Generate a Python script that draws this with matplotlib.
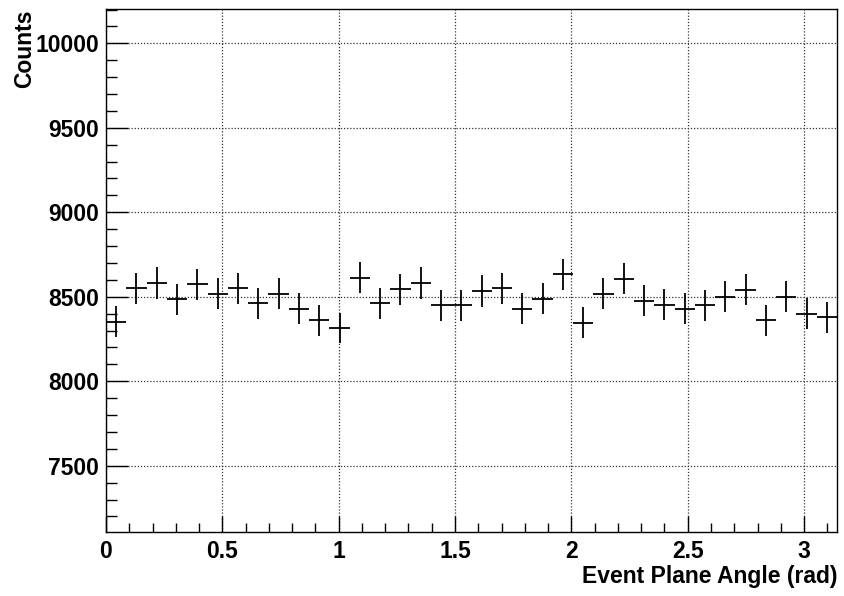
import numpy as np
import matplotlib
matplotlib.use("Agg")
import matplotlib.pyplot as plt
from matplotlib.ticker import MultipleLocator

# Histogram data (36 bins over [0, pi])
n_bins = 36
counts = [8352, 8551, 8581, 8484, 8573, 8518, 8551, 8461, 8518, 8429,
          8360, 8315, 8614, 8461, 8545, 8581, 8451, 8451, 8534, 8551,
          8429, 8488, 8632, 8346, 8518, 8608, 8476, 8453, 8429, 8451,
          8500, 8543, 8362, 8500, 8401, 8380]
x_label = "Event Plane Angle (rad)"
y_label = "Counts"
x_range = (0.0, np.pi)
y_range = (7108, 10203)

edges = np.linspace(x_range[0], x_range[1], n_bins + 1)
centers = 0.5 * (edges[:-1] + edges[1:])
half_w = 0.5 * (edges[1:] - edges[:-1])
vals = np.array(counts, dtype=float)
errs = np.sqrt(vals)

plt.rcParams['font.family'] = ['Liberation Sans', 'DejaVu Sans']
plt.rcParams['font.weight'] = 'bold'

fig = plt.figure(figsize=(8.44, 5.96), dpi=100)
ax = fig.add_axes([106/844, 1 - 532/596, (837-106)/844, (532-9)/596])

ax.errorbar(centers, vals, xerr=half_w, yerr=errs, fmt='none',
            ecolor='black', elinewidth=1.3, capsize=0, zorder=3)

ax.set_xlim(*x_range)
ax.set_ylim(*y_range)

ax.xaxis.set_major_locator(MultipleLocator(0.5))
ax.xaxis.set_minor_locator(MultipleLocator(0.1))
ax.yaxis.set_major_locator(MultipleLocator(500))
ax.yaxis.set_minor_locator(MultipleLocator(100))
ax.xaxis.set_major_formatter(matplotlib.ticker.FuncFormatter(lambda v, p: f"{v:g}"))

ax.grid(True, which='major', color='#333333', linestyle=(0, (1, 1.5)), linewidth=0.9)
ax.set_axisbelow(True)

ax.tick_params(axis='both', which='both', direction='in', top=False, right=False,
               colors='black', width=1.0, labelsize=16.5)
ax.tick_params(axis='y', which='major', length=16, pad=5)
ax.tick_params(axis='y', which='minor', length=8)
ax.tick_params(axis='x', which='major', length=11.3, pad=6)
ax.tick_params(axis='x', which='minor', length=6.5)
for lab in ax.get_xticklabels() + ax.get_yticklabels():
    lab.set_fontweight('bold')

for sp in ax.spines.values():
    sp.set_linewidth(1.0)
    sp.set_color('black')

fig.text(837/844, 1 - 577/596, x_label, ha='right', va='center',
         fontsize=16.5, fontweight='bold')
fig.text(25/844, 1 - 9/596, y_label, ha='center', va='top', rotation=90,
         fontsize=16.5, fontweight='bold')

fig.savefig("out.png", dpi=100)
